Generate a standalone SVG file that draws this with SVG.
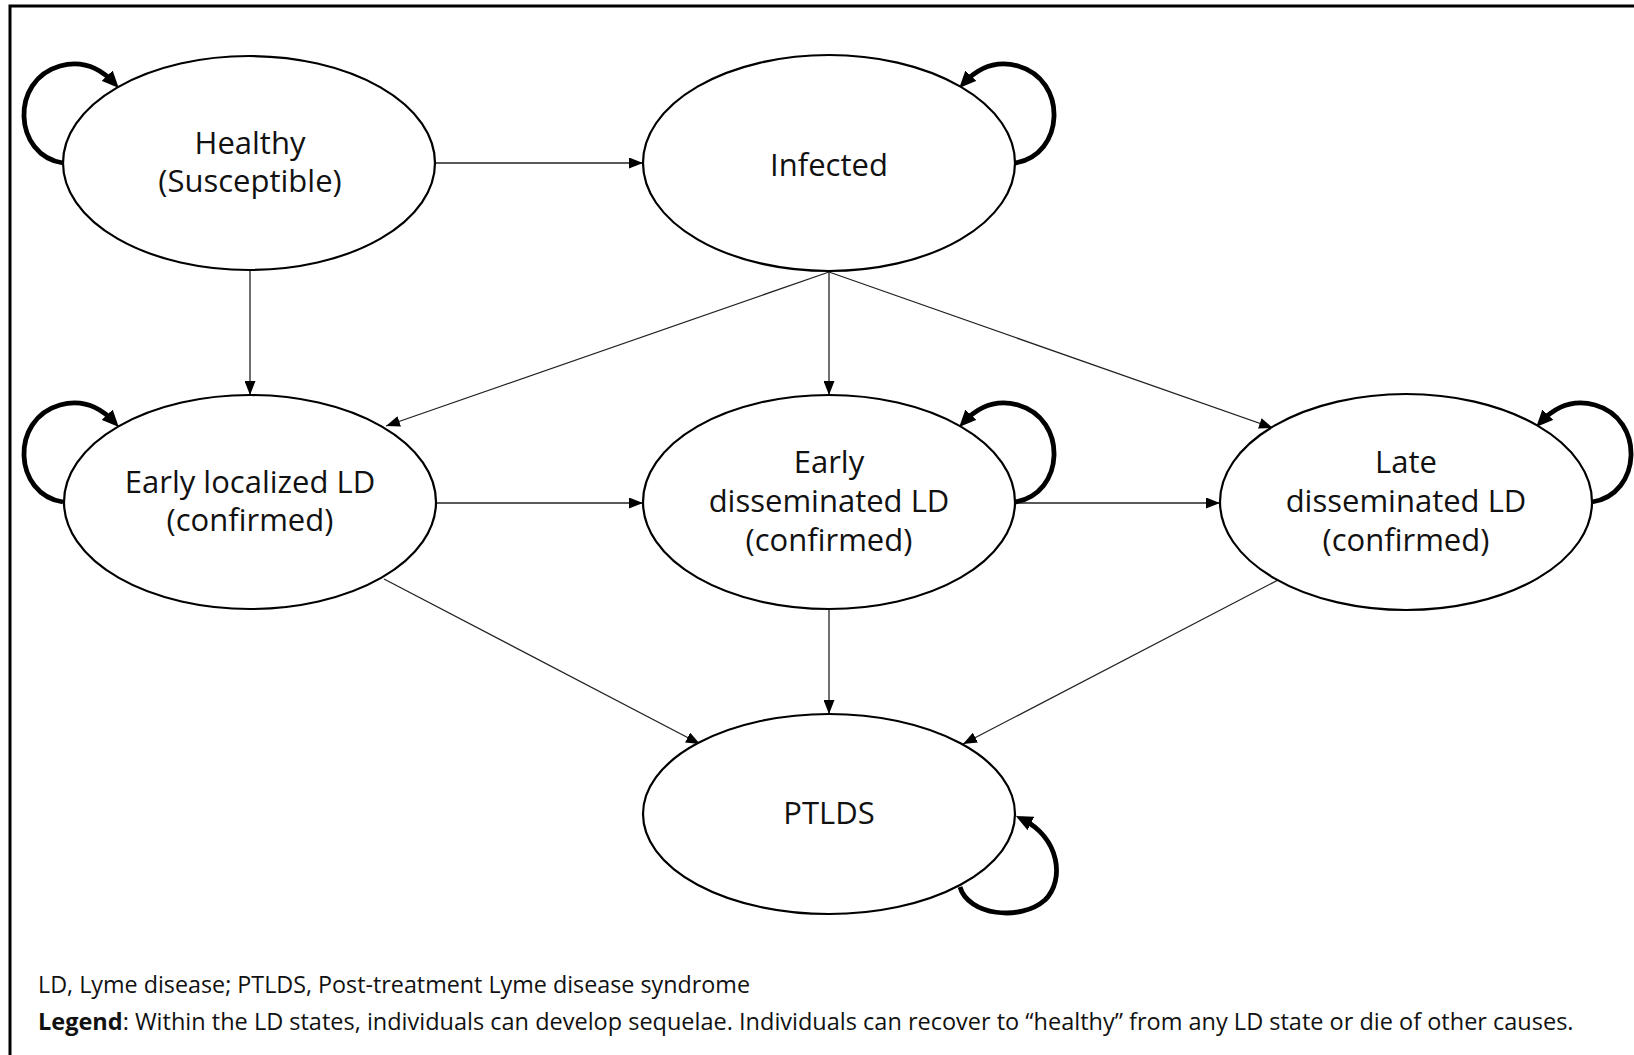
<svg xmlns="http://www.w3.org/2000/svg" width="1634" height="1055" viewBox="0 0 1634 1055">
<style>
.node ellipse{fill:#fff;stroke:#000;stroke-width:2.2}
.lbl{font-family:"Open Sans","Noto Sans",sans-serif;font-size:31px;fill:#111;text-anchor:middle}
.edge{fill:none;stroke:#222;stroke-width:1.3;marker-end:url(#arr)}
.loop{fill:none;stroke:#000;stroke-width:4.8;marker-end:url(#arrB)}
.foot{font-family:"Open Sans","Noto Sans",sans-serif;font-size:23.3px;fill:#111}
</style>
<defs>
<marker id="arr" viewBox="0 0 14 11" markerWidth="14" markerHeight="11" refX="14" refY="5.5" orient="auto" markerUnits="userSpaceOnUse"><path d="M0,0 L14,5.5 L0,11 z" fill="#000"/></marker>
<marker id="arrB" viewBox="0 0 17 15" markerWidth="17" markerHeight="15" refX="10" refY="7.5" orient="auto" markerUnits="userSpaceOnUse"><path d="M0,0 L17,7.5 L0,15 z" fill="#000"/></marker>
</defs>
<rect x="0" y="0" width="1634" height="1055" fill="#fff"/>
<rect x="10" y="6" width="1700" height="1100" fill="none" stroke="#000" stroke-width="3"/>
<g id="connectors">
<path class="edge" d="M435,163 L643,163"/>
<path class="edge" d="M250,270 L250,395"/>
<path class="edge" d="M829,272 L386,426"/>
<path class="edge" d="M829,272 L829,395"/>
<path class="edge" d="M829,272 L1273,428"/>
<path class="edge" d="M436,503 L643,503"/>
<path class="edge" d="M1016,503 L1220,503"/>
<path class="edge" d="M384,579 L700,744"/>
<path class="edge" d="M829,610 L829,714"/>
<path class="edge" d="M1278,580 L963,744"/>
<path class="loop" d="M63,163 C13,155 10,80 60,66 C82,60 100,68 114,83"/>
<path class="loop" d="M63,502 C13,494 10,419 60,405 C82,399 100,407 114,422"/>
<path class="loop" d="M1015,163 C1065,155 1068,80 1018,66 C996,60 978,68 964,83"/>
<path class="loop" d="M1015,502 C1065,494 1068,419 1018,405 C996,399 978,407 964,422"/>
<path class="loop" d="M1592,502 C1642,494 1645,419 1595,405 C1573,399 1555,407 1541,422"/>
<path class="loop" d="M960,887 C968,915 1020,922 1045,900 C1065,880 1060,838 1022,819"/>
</g>
<g id="healthy" class="node"><ellipse cx="249" cy="163" rx="186" ry="107"/><text class="lbl" x="250" y="154">Healthy</text><text class="lbl" x="250" y="192">(Susceptible)</text></g>
<g id="infected" class="node"><ellipse cx="829" cy="163" rx="186" ry="108"/><text class="lbl" x="829" y="176">Infected</text></g>
<g id="early-localized" class="node"><ellipse cx="250" cy="502" rx="186" ry="107"/><text class="lbl" x="250" y="493">Early localized LD</text><text class="lbl" x="250" y="531">(confirmed)</text></g>
<g id="early-disseminated" class="node"><ellipse cx="829" cy="502" rx="186" ry="107"/><text class="lbl" x="829" y="473">Early</text><text class="lbl" x="829" y="512">disseminated LD</text><text class="lbl" x="829" y="551">(confirmed)</text></g>
<g id="late-disseminated" class="node"><ellipse cx="1406" cy="502" rx="186" ry="108"/><text class="lbl" x="1406" y="473">Late</text><text class="lbl" x="1406" y="512">disseminated LD</text><text class="lbl" x="1406" y="551">(confirmed)</text></g>
<g id="ptlds" class="node"><ellipse cx="829" cy="814" rx="186" ry="100"/><text class="lbl" x="829" y="824">PTLDS</text></g>
<g id="footer">
<text class="foot" x="38" y="993">LD, Lyme disease; PTLDS, Post-treatment Lyme disease syndrome</text>
<text class="foot" x="38" y="1030" style="font-size:23.5px"><tspan font-weight="bold">Legend</tspan>: Within the LD states, individuals can develop sequelae. Individuals can recover to “healthy” from any LD state or die of other causes.</text>
</g>
</svg>
